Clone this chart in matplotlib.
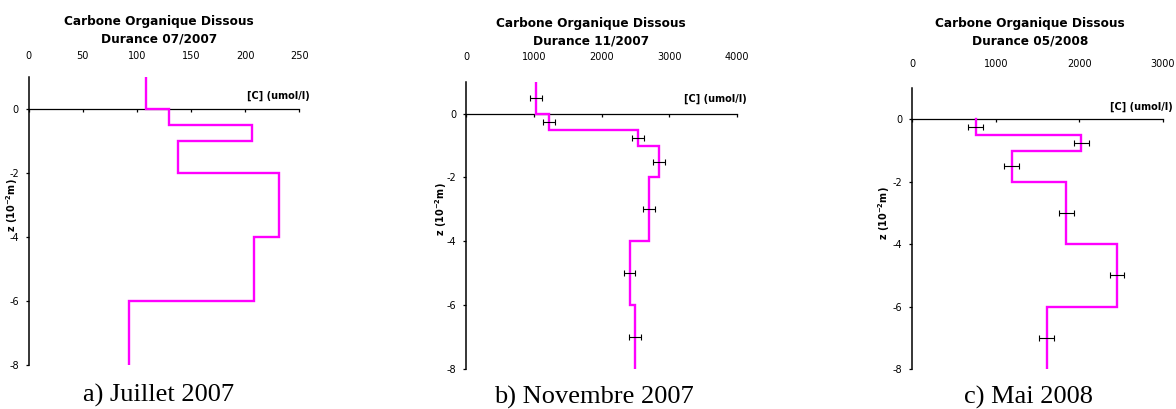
import matplotlib
matplotlib.use("Agg")
import matplotlib.pyplot as plt
from matplotlib.transforms import offset_copy

# Layer boundaries (10^-2 m) and layer mid-depths where samples were measured
layer_tops = [1.0, 0.0, -0.5, -1.0, -2.0, -4.0, -6.0]
layer_bottoms = [0.0, -0.5, -1.0, -2.0, -4.0, -6.0, -8.0]
sample_depths = [0.5, -0.25, -0.75, -1.5, -3.0, -5.0, -7.0]

# Dissolved organic carbon (umol/l) per layer
doc_jul2007 = [108, 130, 206, 138, 231, 208, 93]
doc_nov2007 = [1040, 1225, 2535, 2850, 2695, 2415, 2495]
doc_may2008 = [None, 758, 2022, 1190, 1840, 2450, 1608]

err_nov2007 = [88, 85, 88, 88, 88, 85, 88]
err_may2008 = [None, 88, 88, 88, 90, 85, 88]

titles = ["Carbone Organique Dissous\nDurance 07/2007",
          "Carbone Organique Dissous\nDurance 11/2007",
          "Carbone Organique Dissous\nDurance 05/2008"]
captions = ["a) Juillet 2007", "b) Novembre 2007", "c) Mai 2008"]
x_ticks = [[0, 50, 100, 150, 200, 250],
           [0, 1000, 2000, 3000, 4000],
           [0, 1000, 2000, 3000]]
y_ticks = [-8, -6, -4, -2, 0]

W, H = 1176, 409
fig = plt.figure(figsize=(W / 100, H / 100), dpi=100)


def px_axes(left, top, right, bottom):
    return fig.add_axes([left / W, (H - bottom) / H, (right - left) / W, (bottom - top) / H])


def step_profile(values):
    zs, xs = [], []
    for top, bot, v in zip(layer_tops, layer_bottoms, values):
        if v is None:
            continue
        zs += [top, bot]
        xs += [v, v]
    return xs, zs


MAGENTA = "#ff00ff"
panels = [
    dict(box=(28.7, 77.0, 299.3, 365.0), vals=doc_jul2007, err=None, xmax=250,
         title_xy=(159, 30), cap_xy=(158.5, 401.5), top_pad=9.0, ylab_dx=-8.5, clab_dy=8),
    dict(box=(466.0, 81.7, 737.0, 369.0), vals=doc_nov2007, err=err_nov2007, xmax=4000,
         title_xy=(591, 32), cap_xy=(593.7, 403.5), top_pad=11.5, ylab_dx=-17, clab_dy=10),
    dict(box=(912.3, 88.1, 1163.0, 369.0), vals=doc_may2008, err=err_may2008, xmax=3000,
         title_xy=(1030, 32), cap_xy=(1028, 403.5), top_pad=11.0, ylab_dx=-20, clab_dy=7),
]

for i, p in enumerate(panels):
    ax = px_axes(*p["box"])
    left, top, right, bottom = p["box"]

    xs, zs = step_profile(p["vals"])
    ax.plot(xs, zs, color=MAGENTA, lw=1.7, solid_joinstyle="miter", zorder=3)
    if p["err"] is not None:
        pts = [(v, z, e) for v, z, e in zip(p["vals"], sample_depths, p["err"]) if v is not None]
        ax.errorbar([q[0] for q in pts], [q[1] for q in pts], xerr=[q[2] for q in pts],
                    fmt="none", ecolor="black", elinewidth=0.8, capsize=2.2,
                    capthick=0.8, zorder=4)

    ax.set_xlim(0, p["xmax"])
    ax.set_ylim(-8, 1)
    ax.set_xticks(x_ticks[i])
    ax.set_yticks(y_ticks)
    ax.set_yticklabels([f"{t:d}" for t in y_ticks])

    # axes cross at the origin; concentration scale is labelled along the top
    ax.spines["left"].set_position(("data", 0))
    ax.spines["bottom"].set_position(("data", 0))
    ax.spines["top"].set_visible(False)
    ax.spines["right"].set_visible(False)
    ax.spines["left"].set_linewidth(1.1)
    ax.spines["bottom"].set_linewidth(0.9)
    ax.patch.set_alpha(0)

    ax.tick_params(axis="x", direction="out", length=2.5, width=0.9,
                   bottom=True, top=False, labelbottom=False, labeltop=True,
                   labelsize=7, pad=p["top_pad"])
    ax.tick_params(axis="y", direction="out", length=2.5, width=0.9,
                   labelsize=7, pad=4.5)

    ax.set_ylabel("z (10$^{\\mathregular{-2}}$m)", fontsize=7, fontweight="bold", labelpad=0)
    ax.yaxis.set_label_coords(p["ylab_dx"] / (right - left), (-3.0 + 8) / 9)

    ax.text(1.0 + 10 / (right - left), 0, "[C] (umol/l)",
            transform=offset_copy(ax.get_yaxis_transform(), fig=fig, x=0,
                                  y=p["clab_dy"], units="dots"),
            fontsize=7, fontweight="bold", ha="right", va="bottom")

    tx, ty = p["title_xy"]
    fig.text(tx / W, (H - ty) / H, titles[i], ha="center", va="center",
             fontsize=8.7, fontweight="bold", linespacing=1.45)
    cx, cy = p["cap_xy"]
    fig.text(cx / W, (H - cy) / H, captions[i], ha="center", va="baseline",
             fontsize=19, family="Liberation Serif")

fig.savefig("out.png", dpi=100)
